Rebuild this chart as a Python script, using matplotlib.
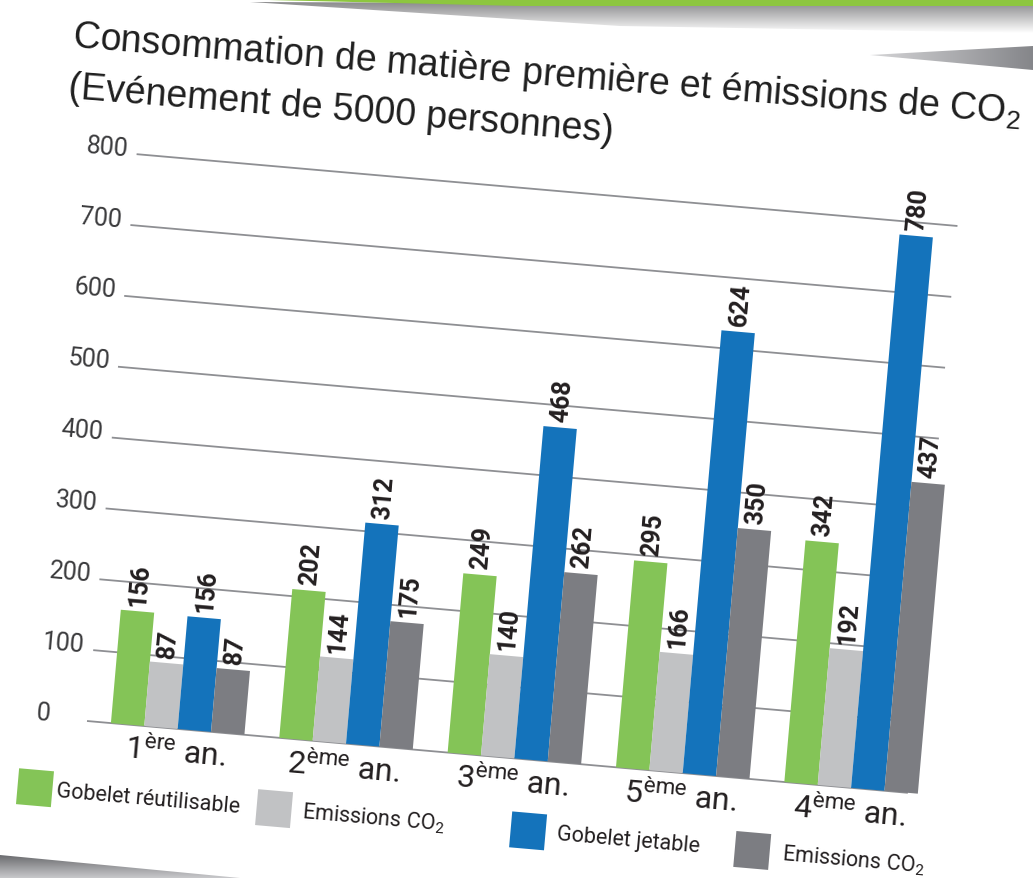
import numpy as np
import matplotlib
matplotlib.use("Agg")
import matplotlib.pyplot as plt
from matplotlib.transforms import Affine2D
from matplotlib.patches import Polygon, Rectangle

plt.rcParams['mathtext.default'] = 'regular'

# ---------------- data ----------------
categories = ['1$^{ère}$ an.', '2$^{ème}$ an.', '3$^{ème}$ an.', '5$^{ème}$ an.', '4$^{ème}$ an.']
series_names = ['Gobelet réutilisable', 'Emissions CO$_2$', 'Gobelet jetable', 'Emissions CO$_2$']
# bar heights as drawn in the picture
reutilisable = [160, 210, 253, 292, 341]
emis_reutilisable = [91, 119, 143, 167, 193]
jetable = [159, 312, 469, 625, 781]
emis_jetable = [90, 177, 267, 350, 436]
# numbers printed above the bars
lab_reutilisable = [156, 202, 249, 295, 342]
lab_emis_reutilisable = [87, 144, 140, 166, 192]
lab_jetable = [156, 312, 468, 624, 780]
lab_emis_jetable = [87, 175, 262, 350, 437]
yticks = [0, 100, 200, 300, 400, 500, 600, 700, 800]
title1 = 'Consommation de matière première et émissions de CO$_2$'
title2 = '(Evénement de 5000 personnes)'

colors = ['#84c457', '#c1c2c4', '#1473bb', '#7c7d82']
heights = [reutilisable, emis_reutilisable, jetable, emis_jetable]
labels = [lab_reutilisable, lab_emis_reutilisable, lab_jetable, lab_emis_jetable]

# ---------------- figure ----------------
W, H = 1033, 879
fig = plt.figure(figsize=(W / 100, H / 100), dpi=100)
fig.patch.set_facecolor('white')

# background decorations (pixel coordinates, y down)
bg = fig.add_axes([0, 0, 1, 1], zorder=-5)
bg.axis('off')


def grad_poly(pts, c_start, c_end, vertical=True):
    poly = Polygon(pts, closed=True, facecolor='none', edgecolor='none')
    bg.add_patch(poly)
    xs = [p[0] for p in pts]
    ys = [p[1] for p in pts]
    n = 256
    t = np.linspace(0, 1, n)
    c0 = np.array(matplotlib.colors.to_rgb(c_start))
    c1 = np.array(matplotlib.colors.to_rgb(c_end))
    col = c0[None, :] * (1 - t[:, None]) + c1[None, :] * t[:, None]
    if vertical:
        img = np.repeat(col[:, None, :], 2, axis=1)
    else:
        img = np.repeat(col[None, :, :], 2, axis=0)
    im = bg.imshow(img, extent=(min(xs), max(xs), max(ys), min(ys)),
                   origin='upper', aspect='auto', interpolation='bilinear')
    im.set_clip_path(poly)


grad_poly([(250, 3), (1033, 6), (1033, 34), (620, 27)], '#8a8a8c', '#ffffff')
bg.add_patch(Polygon([(227, 0), (1033, 0), (1033, 7), (520, 7)], closed=True,
                     facecolor='#8dc63f', edgecolor='none'))
grad_poly([(870, 56), (1033, 47), (1033, 71)], '#d5d5d7', '#85868a', vertical=False)
grad_poly([(0, 856), (240, 879), (0, 879)], '#6a6b6f', '#c9c9cb')
bg.set_xlim(0, W)
bg.set_ylim(H, 0)

# ---------------- main (rotated) chart ----------------
ox, oy = 87, 157          # display position of the origin (px)
aw, ah = 824, 569         # axis length along the rotated frame (px)
ax = fig.add_axes([ox / W, oy / H, aw / W, ah / H])
ax.axis('off')
px_x = 169.0              # px per category
s0 = 91.0                 # px from left edge to first category
xlo, xhi = -s0 / px_x, (aw - s0) / px_x
ax.set_xlim(xlo, xhi)
ax.set_ylim(0, 800)
py = ah / 800.0


def sx(p):
    return p / px_x


def sy(p):
    return p / py


ANG = -5.0
tr = ax.transData + Affine2D().rotate_deg_around(ox, oy, ANG)

# grid lines
ax.hlines(yticks, xlo, xhi, colors='#8e8f93', linewidth=1.3, zorder=1,
          transform=tr, clip_on=False)
for t in yticks:
    ax.text(xlo + sx(-51), t + sy(5), str(t), transform=tr, rotation=ANG,
            rotation_mode='anchor', ha='left', va='center', fontsize=18,
            family='Roboto', fontweight='normal', color='#3a3a3c')

x = np.arange(len(categories))
bw = sx(33.5)
offsets = (np.arange(4) - 1.5) * bw
for k in range(4):
    bars = ax.bar(x + offsets[k], heights[k], bw, color=colors[k], zorder=3, linewidth=0)
    for b in bars:
        b.set_transform(tr)
        b.set_clip_on(False)
    for xi, hv, lab in zip(x + offsets[k], heights[k], labels[k]):
        ax.text(xi, hv + sy(6), str(lab), transform=tr, rotation=90 + ANG,
                rotation_mode='anchor', ha='left', va='center', fontsize=18,
                family='Roboto', fontweight='bold', color='#231f20', zorder=4)

# category labels
for xi, c in zip(x, categories):
    ax.text(xi, sy(-33), c, transform=tr, rotation=ANG, rotation_mode='anchor',
            ha='center', va='baseline', fontsize=23, family='Roboto',
            fontweight='normal', color='#231f20')

# legend
leg_s = [-46, 194, 449, 674]
leg_gap = [22, 28, 29, 30]
for k in range(4):
    cx = xlo + sx(leg_s[k])
    cy = sy(-71)
    r = Rectangle((cx - sx(17.5), cy - sy(18)), sx(35), sy(36), facecolor=colors[k],
                  edgecolor='none', transform=tr, clip_on=False)
    ax.add_patch(r)
    ax.text(xlo + sx(leg_s[k] + leg_gap[k]), sy(-77), series_names[k], transform=tr,
            rotation=ANG, rotation_mode='anchor', ha='left', va='baseline',
            fontsize=15.5, family='Roboto', fontweight='normal', color='#231f20')

# title
fig.text(72 / W, 1 - 47 / H, title1, rotation=-4.6, rotation_mode='anchor',
         ha='left', va='baseline', fontsize=27, family='Liberation Sans', color='#1f1f1f')
fig.text(68 / W, 1 - 98 / H, title2, rotation=-4.6, rotation_mode='anchor',
         ha='left', va='baseline', fontsize=27, family='Liberation Sans', color='#1f1f1f')

fig.savefig('out.png', dpi=100, facecolor='white')
